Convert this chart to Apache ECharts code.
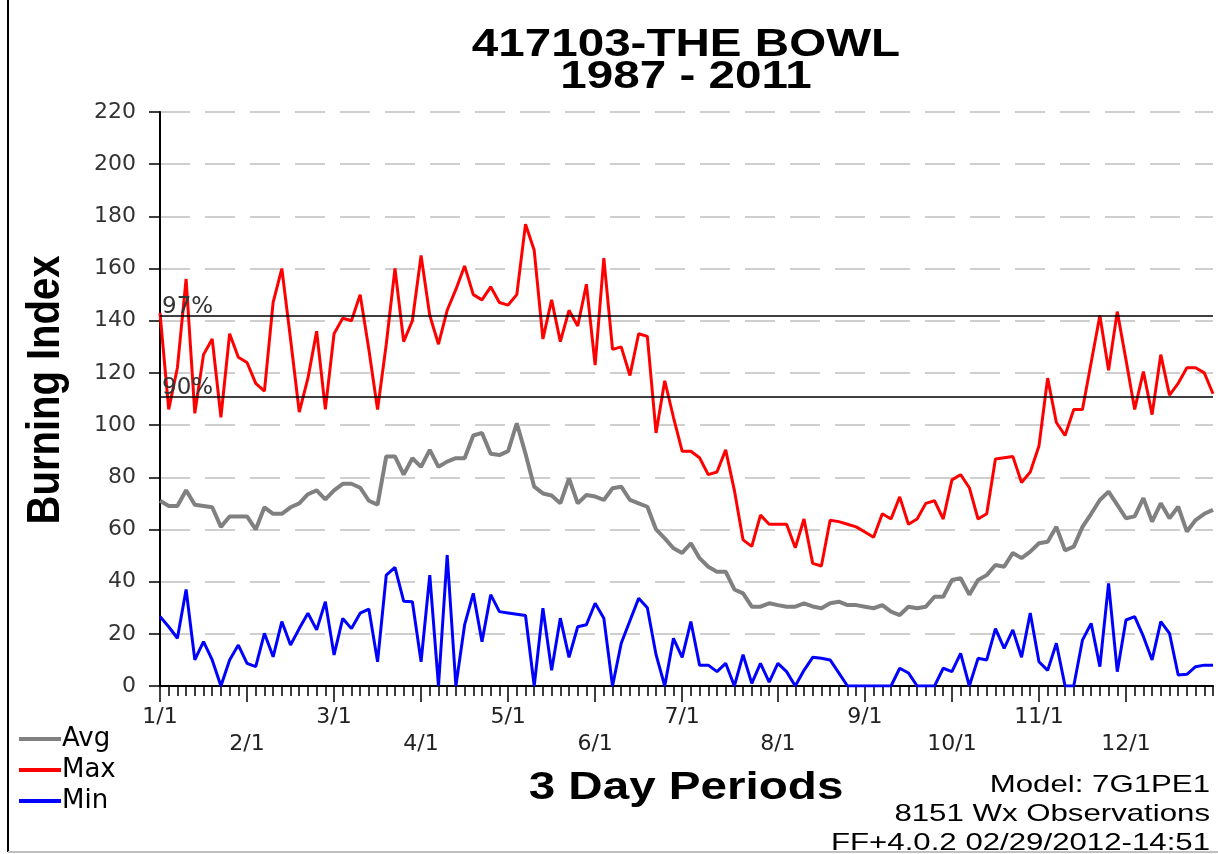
<!DOCTYPE html>
<html>
<head>
<meta charset="utf-8">
<title>417103-THE BOWL</title>
<script src="https://cdn.jsdelivr.net/npm/echarts@6/dist/echarts.min.js"></script>
<style>
  html, body { margin: 0; padding: 0; background: #fff; }
  #chart { width: 1218px; height: 854px; }
</style>
</head>
<body>
<div id="chart"></div>
<script>
// Burning Index per 3 day period, 1/1 .. 12/31
const avgValues = [
  71, 69, 69, 75, 69.5, 69, 68.5, 61, 65, 65,
  65, 60, 68.5, 66, 66, 68.5, 70, 73.5, 75, 71.5,
  75, 77.5, 77.5, 76, 71, 69.5, 88, 88, 81, 87.3,
  84, 90.5, 84, 86, 87.3, 87.3, 96, 97, 89, 88.5,
  90, 100.7, 89, 76.4, 73.8, 73, 70, 79.6, 70, 73.2,
  72.6, 71.3, 75.8, 76.4, 71.3, 70, 68.7, 60, 56.6, 52.8,
  51, 54.7, 49, 45.7, 43.8, 43.8, 37, 35.5, 30.4, 30.4,
  31.7, 31, 30.4, 30.4, 31.7, 30.5, 29.8, 31.7, 32.3, 31,
  31, 30.4, 29.8, 31, 28.5, 27.2, 30.4, 29.8, 30.4, 34.2,
  34.2, 40.6, 41.3, 35, 40.6, 42.5, 46.4, 45.7, 51, 49,
  51.5, 54.7, 55.3, 61, 52, 53.4, 61, 66, 71.3, 74.5,
  69.4, 64.3, 65, 72, 63, 70, 64.3, 68.7, 59.2, 63.6, 66, 67.5
];
const maxValues = [
  143, 106, 122, 156, 104.5, 127, 133, 103, 135, 126,
  124, 116, 113, 147, 160, 133, 105, 118, 136, 106,
  135, 141, 140, 150, 129, 106, 131, 160, 132, 140,
  165, 142, 131, 144, 152, 161, 150, 148, 153, 147,
  146, 150, 177, 167, 133, 148, 132, 144, 138, 154,
  123, 164, 129, 130, 119, 135, 134, 97, 117, 103,
  90, 90, 87.5, 81, 82, 90.5, 75, 56, 53.5, 65.5,
  62, 62, 62, 53, 64, 47, 46, 63.5, 63, 62,
  61, 59, 57, 66, 64, 72.5, 62, 64, 70, 71,
  64, 79, 81, 76, 64, 66, 87, 87.5, 88, 78,
  82, 92, 118, 101, 96, 106, 106, 124, 142, 121,
  143.5, 125, 106, 120.5, 104, 127, 111.5, 116, 122, 122, 120, 112
];
const minValues = [
  26.6, 22.7, 18.3, 37, 10, 17, 10, 0, 10, 15.7,
  8.7, 7.4, 20.2, 11.2, 24.7, 15.7, 22, 27.9, 21.5, 32.3,
  11.9, 25.9, 22, 27.9, 29.5, 9.3, 42.5, 45.5, 32.5, 32.3,
  9.3, 42.5, 0, 50.2, 0, 23.4, 35.5, 17, 35, 28.5,
  28, 27.5, 27, 0, 29.8, 6, 26, 11, 22.7, 23.5,
  31.7, 26, 0, 16.4, 25, 33.6, 30, 12, 0, 18.3,
  11, 24.7, 8, 8, 5.5, 8.7, 0, 12, 1, 8.7,
  1.5, 8.7, 5.5, 0, 6, 11, 10.6, 10, 5, 0,
  0, 0, 0, 0, 0, 6.8, 5, 0, 0, 0,
  6.8, 5.5, 12.5, 0, 10.6, 10, 22, 14.4, 21.5, 11,
  28, 9.3, 6, 16.4, 0, 0, 17.6, 24, 7.4, 39.3,
  5.5, 25.3, 26.6, 19, 10, 24.7, 20.2, 4.2, 4.5, 7.4, 8, 8
];
const monthLabels = ['1/1', '2/1', '3/1', '4/1', '5/1', '6/1', '7/1', '8/1', '9/1', '10/1', '11/1', '12/1'];
const monthPeriods = [0, 10, 20, 30, 40, 50, 60, 71, 81, 91, 101, 111];
const pct97 = 142;
const pct90 = 111;

const periods = avgValues.map((v, i) => String(i + 1));
const labelAt = {};
monthPeriods.forEach((p, k) => {
  // odd months on the first row, even months one row lower
  labelAt[p] = (k % 2 === 0 ? '' : '\n') + monthLabels[k];
});
const isMonthStart = (index) => labelAt[index] !== undefined;

const chart = echarts.init(document.getElementById('chart'));

chart.setOption({
  animation: false,
  backgroundColor: '#fff',
  grid: { left: 160, right: 5, top: 112, bottom: 168 },
  legend: {
    orient: 'vertical',
    left: 14,
    top: 721,
    icon: 'rect',
    itemWidth: 42,
    itemHeight: 4,
    itemGap: 5,
    textStyle: { fontFamily: 'DejaVu Sans', fontSize: 26, lineHeight: 26, color: '#000', padding: [0, 0, 0, -4] },
    data: ['Avg', 'Max', 'Min']
  },
  xAxis: [
    {
      type: 'category',
      data: periods,
      boundaryGap: false,
      axisLine: { lineStyle: { color: '#000', width: 2 } },
      axisTick: { interval: 0, length: 10, lineStyle: { color: '#000', width: 1.5 } },
      axisLabel: { show: false },
      splitLine: { show: false }
    },
    {
      type: 'category',
      data: periods,
      boundaryGap: false,
      position: 'bottom',
      axisLine: { show: false },
      axisTick: { interval: isMonthStart, length: 16, lineStyle: { color: '#000', width: 1.5 } },
      axisLabel: {
        interval: isMonthStart,
        margin: 18,
        fontFamily: 'DejaVu Sans',
        fontSize: 22,
        lineHeight: 27,
        color: '#222',
        formatter: (value, index) => labelAt[index] || ''
      },
      splitLine: { show: false }
    }
  ],
  yAxis: {
    type: 'value',
    min: 0,
    max: 220,
    interval: 20,
    axisLine: { show: true, lineStyle: { color: '#000', width: 2 } },
    axisTick: { show: true, length: 11, lineStyle: { color: '#000', width: 1.5 } },
    axisLabel: { margin: 24, fontFamily: 'DejaVu Sans', fontSize: 22, color: '#333' },
    splitLine: { lineStyle: { color: '#cfcfcf', width: 2, type: [30, 15] } }
  },
  series: [
    {
      name: 'Avg',
      type: 'line',
      data: avgValues,
      showSymbol: false,
      lineStyle: { color: '#808080', width: 4 },
      itemStyle: { color: '#808080' }
    },
    {
      name: 'Max',
      type: 'line',
      data: maxValues,
      showSymbol: false,
      lineStyle: { color: '#ff0000', width: 3 },
      itemStyle: { color: '#ff0000' },
      markLine: {
        silent: true,
        symbol: ['none', 'none'],
        lineStyle: { color: '#000', width: 1.5, type: 'solid' },
        label: {
          position: 'insideStartTop',
          distance: [2, -3],
          fontFamily: 'DejaVu Sans',
          fontSize: 23,
          color: '#333'
        },
        data: [
          { yAxis: pct97, label: { formatter: '97%' } },
          { yAxis: pct90, label: { formatter: '90%' } }
        ]
      }
    },
    {
      name: 'Min',
      type: 'line',
      data: minValues,
      showSymbol: false,
      lineStyle: { color: '#0000ff', width: 3 },
      itemStyle: { color: '#0000ff' }
    }
  ],
  graphic: [
    { type: 'line', shape: { x1: 8, y1: 0, x2: 8, y2: 852 }, style: { stroke: '#000', lineWidth: 2 } },
    { type: 'line', shape: { x1: 8, y1: 852, x2: 1218, y2: 852 }, style: { stroke: '#c0c0c0', lineWidth: 2 } },
    {
      type: 'text', x: 686, y: 45, scaleX: 1.22,
      style: { text: '417103-THE BOWL', font: 'bold 39px "Liberation Sans"', fill: '#000',
        textAlign: 'center', textVerticalAlign: 'middle', align: 'center', verticalAlign: 'middle' }
    },
    {
      type: 'text', x: 686, y: 77, scaleX: 1.22,
      style: { text: '1987 - 2011', font: 'bold 39px "Liberation Sans"', fill: '#000',
        textAlign: 'center', textVerticalAlign: 'middle', align: 'center', verticalAlign: 'middle' }
    },
    {
      type: 'text', x: 686, y: 788, scaleX: 1.22,
      style: { text: '3 Day Periods', font: 'bold 39px "Liberation Sans"', fill: '#000',
        textAlign: 'center', textVerticalAlign: 'middle', align: 'center', verticalAlign: 'middle' }
    },
    {
      type: 'text', x: 46, y: 390, rotation: Math.PI / 2, scaleY: 1.15,
      style: { text: 'Burning Index', font: 'bold 40px "Liberation Sans"', fill: '#000',
        textAlign: 'center', textVerticalAlign: 'middle', align: 'center', verticalAlign: 'middle' }
    },
    {
      type: 'text', x: 1210, y: 785, scaleX: 1.3,
      style: { text: 'Model: 7G1PE1', font: '24px "Liberation Sans"', fill: '#000',
        textAlign: 'right', textVerticalAlign: 'middle', align: 'right', verticalAlign: 'middle' }
    },
    {
      type: 'text', x: 1210, y: 814, scaleX: 1.3,
      style: { text: '8151 Wx Observations', font: '24px "Liberation Sans"', fill: '#000',
        textAlign: 'right', textVerticalAlign: 'middle', align: 'right', verticalAlign: 'middle' }
    },
    {
      type: 'text', x: 1210, y: 843, scaleX: 1.3,
      style: { text: 'FF+4.0.2 02/29/2012-14:51', font: '24px "Liberation Sans"', fill: '#000',
        textAlign: 'right', textVerticalAlign: 'middle', align: 'right', verticalAlign: 'middle' }
    }
  ]
});

window.addEventListener('resize', function() {
  chart.resize();
});
</script>
</body>
</html>
